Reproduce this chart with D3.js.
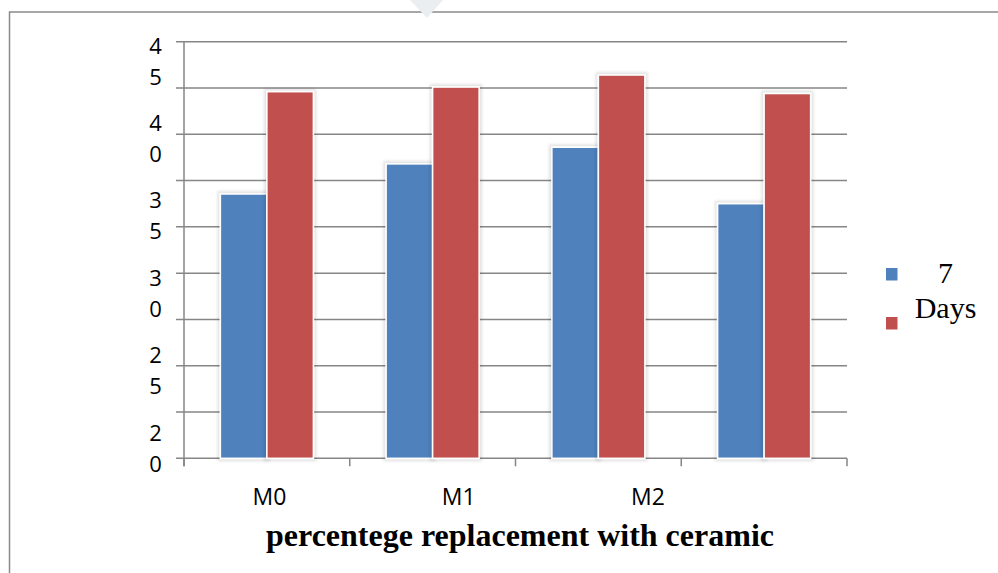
<!DOCTYPE html>
<html>
<head>
<meta charset="utf-8">
<script src="https://cdn.jsdelivr.net/npm/d3@7"></script>
<style>
  html, body { margin: 0; padding: 0; background: #fff; }
  svg { display: block; }
</style>
</head>
<body>
<svg id="chart" width="998" height="573"></svg>
<script>
// ---- data ----
const categories = ["M0", "M1", "M2", "M3"];
const seriesNames = ["7 Days", "28 Days"];
const values7 = [28.55, 31.8, 33.6, 27.5];
const values28 = [39.6, 40.1, 41.4, 39.4];
const yTickLabels = ["45", "40", "35", "30", "25", "20"];
const xTickLabels = ["M0", "M1", "M2"];
const xTitle = "percentege replacement with ceramic";
const colors = ["#4F81BD", "#C0504D"];

const svg = d3.select("#chart");

// defs: soft shadow around bars
const defs = svg.append("defs");
const f = defs.append("filter").attr("id", "glow").attr("x", "-30%").attr("y", "-30%").attr("width", "160%").attr("height", "160%");
f.append("feMorphology").attr("in", "SourceAlpha").attr("operator", "dilate").attr("radius", 2).attr("result", "d");
f.append("feGaussianBlur").attr("in", "d").attr("stdDeviation", 1.6).attr("result", "b");
f.append("feFlood").attr("flood-color", "#000").attr("flood-opacity", 0.12);
f.append("feComposite").attr("in2", "b").attr("operator", "in").attr("result", "s");
const fm = f.append("feMerge");
fm.append("feMergeNode").attr("in", "s");
fm.append("feMergeNode").attr("in", "SourceGraphic");

// outer frame (top and left edges visible)
svg.append("path")
  .attr("d", "M9.5,573 L9.5,12 L998,12")
  .attr("fill", "none").attr("stroke", "#8a8a8a").attr("stroke-width", 1.5);

// faint watermark shape at top
svg.append("path")
  .attr("d", "M410,0 L443,0 L427,18 Z")
  .attr("fill", "#eaeef1");

const plot = { left: 184, right: 847, top: 41.7, bottom: 458.3 };

const y = d3.scaleLinear().domain([0, 45]).range([plot.bottom, plot.top]);
const x0 = d3.scaleBand().domain(categories).range([plot.left, plot.right])
  .paddingInner(0.439).paddingOuter(0.2195);
const x1 = d3.scaleBand().domain(seriesNames).range([0, x0.bandwidth()]);

// gridlines
const gridTicks = d3.range(0, 46, 5);
svg.append("g").selectAll("line").data(gridTicks).join("line")
  .attr("x1", plot.left - 8).attr("x2", plot.right)
  .attr("y1", d => y(d)).attr("y2", d => y(d))
  .attr("stroke", "#868686").attr("stroke-width", 1.5);

// y axis line
svg.append("line")
  .attr("x1", plot.left).attr("x2", plot.left)
  .attr("y1", plot.top).attr("y2", plot.bottom + 8)
  .attr("stroke", "#868686").attr("stroke-width", 1.5);

// x axis ticks at band boundaries
const step = x0.step();
const boundaries = d3.range(categories.length + 1).map(i => plot.left + i * step);
svg.append("g").selectAll("line").data(boundaries).join("line")
  .attr("x1", d => d).attr("x2", d => d)
  .attr("y1", plot.bottom).attr("y2", plot.bottom + 8)
  .attr("stroke", "#868686").attr("stroke-width", 1.5);

// bars
const rows = categories.map((c, i) => ({ cat: c, vals: [values7[i], values28[i]] }));
const groups = svg.append("g").selectAll("g").data(rows).join("g")
  .attr("transform", d => `translate(${x0(d.cat)},0)`);
groups.selectAll("rect").data(d => d.vals.map((v, j) => ({ v, s: seriesNames[j], j })))
  .join("rect")
  .attr("x", d => x1(d.s))
  .attr("width", x1.bandwidth())
  .attr("y", d => y(d.v))
  .attr("height", d => y(0) - y(d.v))
  .attr("fill", d => colors[d.j])
  .attr("stroke", "#fff").attr("stroke-width", 1.5)
  .attr("filter", "url(#glow)");

// y tick labels (wrapped, one character per line)
const yLab = d3.scalePoint().domain(yTickLabels).range([46, 433]);
const yl = svg.append("g").attr("font-family", "'Open Sans', sans-serif").attr("font-size", 22)
  .attr("fill", "#000").attr("text-anchor", "middle");
yTickLabels.forEach(lbl => {
  const t = yl.append("text").attr("x", 155.5);
  lbl.split("").forEach((ch, k) => {
    t.append("tspan").attr("x", 155.5).attr("y", yLab(lbl) + 7.5 + k * 31).text(ch);
  });
});

// x tick labels
const xLab = d3.scalePoint().domain(xTickLabels).range([269.5, 648]);
svg.append("g").selectAll("text").data(xTickLabels).join("text")
  .attr("x", d => xLab(d)).attr("y", 505)
  .attr("text-anchor", "middle")
  .attr("font-family", "'Open Sans', sans-serif").attr("font-size", 23)
  .attr("fill", "#000")
  .text(d => d);

// x title
svg.append("text")
  .attr("x", 520).attr("y", 546)
  .attr("text-anchor", "middle")
  .attr("font-family", "'Liberation Serif', 'Times New Roman', serif")
  .attr("font-weight", "bold").attr("font-size", 32)
  .attr("fill", "#000")
  .text(xTitle);

// legend
const leg = svg.append("g");
const legY = d3.scalePoint().domain(seriesNames).range([268, 317]);
leg.selectAll("rect").data(seriesNames).join("rect")
  .attr("x", 886).attr("y", d => legY(d))
  .attr("width", 11.5).attr("height", 12.5)
  .attr("fill", (d, i) => colors[i]);
const lt = leg.append("text")
  .attr("text-anchor", "middle")
  .attr("font-family", "'Liberation Serif', 'Times New Roman', serif")
  .attr("font-size", 30).attr("fill", "#000");
seriesNames[0].split(" ").forEach((w, k) => {
  lt.append("tspan").attr("x", 945.5).attr("y", 283 + k * 35).text(w);
});
</script>
</body>
</html>
